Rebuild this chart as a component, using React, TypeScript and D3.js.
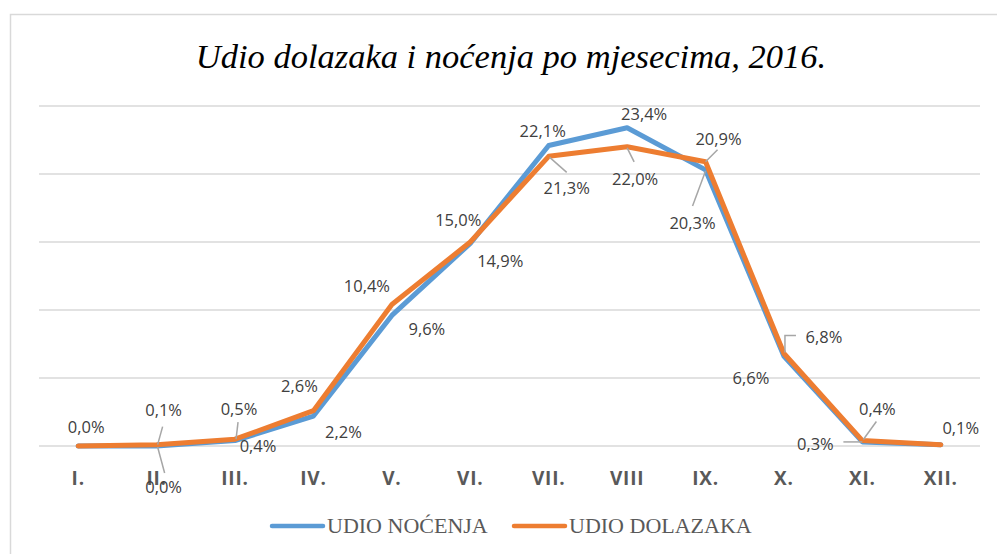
import React from "react";
import * as d3 from "d3";

const months = ["I.", "II.", "III.", "IV.", "V.", "VI.", "VII.", "VIII", "IX.", "X.", "XI.", "XII."];
const udioNocenja = [0.0, 0.0, 0.4, 2.2, 9.6, 14.9, 22.1, 23.4, 20.3, 6.6, 0.3, 0.1];
const udioDolazaka = [0.0, 0.1, 0.5, 2.6, 10.4, 15.0, 21.3, 22.0, 20.9, 6.8, 0.4, 0.1];
const yTicks = [0, 5, 10, 15, 20, 25];
const seriesNames = ["UDIO NOĆENJA", "UDIO DOLAZAKA"];
const title = "Udio dolazaka i noćenja po mjesecima, 2016.";

// label layout (offsets from the data point, in px), leader polylines as offsets
type Lbl = { dx: number; dy: number; leader?: [number, number][]; hidden?: boolean };
const nocenjaLabels: Lbl[] = [
  { dx: 8, dy: -19, hidden: true },
  { dx: 7, dy: 41, leader: [[1, 1], [8, 27]] },
  { dx: 23, dy: 5 },
  { dx: 30, dy: 16 },
  { dx: 35, dy: 14 },
  { dx: 30, dy: 18 },
  { dx: -6, dy: -14 },
  { dx: 17, dy: -14 },
  { dx: -13, dy: 53, leader: [[0, 1], [-13, 36]] },
  { dx: -33, dy: 22 },
  { dx: -47, dy: 2, leader: [[-19, 0], [0, 0]] },
  { dx: 20, dy: -17, hidden: true },
];
const dolazakaLabels: Lbl[] = [
  { dx: 8, dy: -19 },
  { dx: 7, dy: -35, leader: [[1, 0], [6, -18]] },
  { dx: 4, dy: -30, leader: [[1, 0], [3, -17]] },
  { dx: -14, dy: -25 },
  { dx: -25, dy: -19 },
  { dx: -12, dy: -22 },
  { dx: 18, dy: 32, leader: [[1, 1], [18, 16]] },
  { dx: 8, dy: 32, leader: [[0, 1], [7, 15]] },
  { dx: 13, dy: -23, leader: [[0, 0], [12, -12]] },
  { dx: 40, dy: -16, leader: [[1, -1], [1, -18], [12, -18]] },
  { dx: 15, dy: -32, leader: [[1, -1], [14, -19]] },
  { dx: 20, dy: -17 },
];

const W = 997;
const H = 554;
const BLUE = "#5b9bd5";
const ORANGE = "#ed7d31";
const GRID = "#d9d9d9";

export default function App() {
  const x = d3.scaleBand<string>().domain(months).range([39, 980]).paddingInner(0).paddingOuter(0);
  const xc = (m: string) => (x(m) as number) + x.bandwidth() / 2;
  const y = d3.scaleLinear().domain([0, 25]).range([446, 106]);

  const line = d3
    .line<number>()
    .x((_, i) => xc(months[i]))
    .y((d) => y(d))
    .curve(d3.curveLinear);

  const fmt = (v: number) => v.toFixed(1).replace(".", ",") + "%";

  const series = [
    { name: seriesNames[0], values: udioNocenja, color: BLUE, labels: nocenjaLabels },
    { name: seriesNames[1], values: udioDolazaka, color: ORANGE, labels: dolazakaLabels },
  ];

  const legendItems = [
    { name: seriesNames[0], color: BLUE, x0: 270 },
    { name: seriesNames[1], color: ORANGE, x0: 512 },
  ];

  return (
    <svg
      width={W}
      height={H}
      style={{ position: "absolute", left: 0, top: 0, background: "#fff" }}
    >
      <rect x={0} y={0} width={W} height={H} fill="#fff" />
      <rect x={10.5} y={14.5} width={W + 20} height={H + 20} fill="none" stroke={GRID} strokeWidth={1.5} />
      <text
        x={511}
        y={68}
        textAnchor="middle"
        fontFamily="'Liberation Serif', 'Times New Roman', serif"
        fontStyle="italic"
        fontSize={34.5}
        fill="#000"
      >
        {title}
      </text>
      {yTicks.map((t) => (
        <line key={t} x1={39} x2={980} y1={y(t)} y2={y(t)} stroke={GRID} strokeWidth={1.5} />
      ))}
      {months.map((m) => (
        <text
          key={m}
          x={xc(m)}
          y={485}
          textAnchor="middle"
          fontFamily="'Open Sans', sans-serif"
          fontWeight="bold"
          fontSize={19}
          letterSpacing={0.8}
          fill="#595959"
        >
          {m}
        </text>
      ))}
      {series.map((s) => (
        <path
          key={s.name}
          d={line(s.values) || ""}
          fill="none"
          stroke={s.color}
          strokeWidth={5}
          strokeLinejoin="round"
          strokeLinecap="round"
        />
      ))}
      {series.map((s) =>
        s.values.map((v, i) => {
          const px = xc(months[i]);
          const py = y(v);
          const l = s.labels[i];
          if (l.hidden) return null;
          return (
            <g key={s.name + i}>
              {l.leader && (
                <polyline
                  points={l.leader.map(([a, b]) => `${px + a},${py + b}`).join(" ")}
                  fill="none"
                  stroke="#a6a6a6"
                  strokeWidth={1.5}
                />
              )}
              <text
                x={px + l.dx}
                y={py + l.dy}
                dy="0.36em"
                textAnchor="middle"
                fontFamily="'Open Sans', sans-serif"
                fontSize={16.5}
                fill="#404040"
              >
                {fmt(v)}
              </text>
            </g>
          );
        })
      )}
      {legendItems.map((li) => (
        <g key={li.name}>
          <line x1={li.x0 + 2} x2={li.x0 + 53} y1={526} y2={526} stroke={li.color} strokeWidth={4.5} strokeLinecap="round" />
          <text
            x={li.x0 + 57}
            y={533}
            fontFamily="'Liberation Serif', 'Times New Roman', serif"
            fontSize={22}
            fill="#595959"
          >
            {li.name}
          </text>
        </g>
      ))}
    </svg>
  );
}
